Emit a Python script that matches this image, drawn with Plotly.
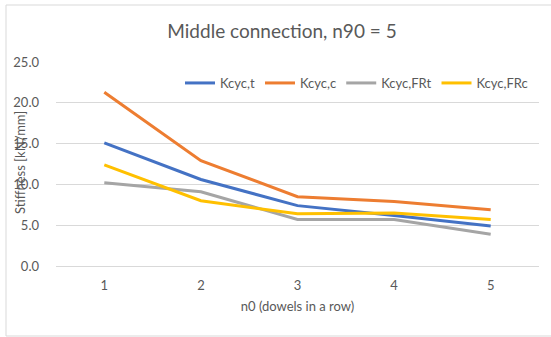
import plotly.graph_objects as go

# Number of dowels in a row (category axis)
n0 = ["1", "2", "3", "4", "5"]

# Cyclic stiffness values [kN/mm]
k_cyc_t = [15.1, 10.6, 7.4, 6.2, 4.9]
k_cyc_c = [21.3, 12.9, 8.5, 7.9, 6.9]
k_cyc_frt = [10.2, 9.1, 5.7, 5.7, 3.9]
k_cyc_frc = [12.4, 8.0, 6.4, 6.5, 5.7]

series = [
    ("Kcyc,t", k_cyc_t, "#4472C4"),
    ("Kcyc,c", k_cyc_c, "#ED7D31"),
    ("Kcyc,FRt", k_cyc_frt, "#A5A5A5"),
    ("Kcyc,FRc", k_cyc_frc, "#FFC000"),
]

FONT = "Lato"
TXT = "#595959"

fig = go.Figure()
for name, vals, color in series:
    fig.add_trace(go.Scatter(
        x=n0, y=vals, name=name, mode="lines",
        line=dict(color=color, width=3),
    ))

W, H = 551, 337
ml, mr, mt, mb = 56, 12, 62, 71
pw = W - ml - mr
ph = H - mt - mb

def px_x(p):
    return (p - ml) / pw

def px_y(p):
    return (H - mb - p) / ph

fig.update_layout(
    width=W, height=H,
    margin=dict(l=ml, r=mr, t=mt, b=mb, autoexpand=False),
    paper_bgcolor="white", plot_bgcolor="white",
    font=dict(family=FONT, color=TXT, size=12),
    title=dict(
        text="Middle connection, n90 = 5",
        font=dict(family=FONT, size=19, color=TXT),
        x=px_x(282), xref="paper", xanchor="center",
        y=1 - 31 / H, yref="container", yanchor="middle",
    ),
    legend=dict(
        orientation="h",
        x=px_x(180), xanchor="left",
        y=px_y(83), yanchor="middle",
        bgcolor="rgba(0,0,0,0)",
        font=dict(family=FONT, size=13, color=TXT),
        itemwidth=30,
    ),
    showlegend=True,
    xaxis=dict(
        type="category",
        range=[-0.5, 4.5],
        showgrid=False,
        showline=True, linecolor="#D9D9D9", linewidth=1,
        ticks="", tickfont=dict(family=FONT, size=13, color=TXT),
        ticklabelstandoff=7,
        title=dict(text="n0 (dowels in a row)",
                   font=dict(family=FONT, size=13, color=TXT), standoff=10),
        fixedrange=True,
    ),
    yaxis=dict(
        range=[0, 25], dtick=5, tickformat=".1f",
        showgrid=True, gridcolor="#D9D9D9", gridwidth=1,
        zeroline=False, showline=False,
        ticks="", tickfont=dict(family=FONT, size=13, color=TXT),
        ticklabelstandoff=16,
        fixedrange=True,
    ),
    annotations=[dict(
        text="Stiffness [kN/mm]", textangle=-90,
        xref="paper", yref="paper",
        x=px_x(20), y=px_y(163), xanchor="center", yanchor="middle",
        showarrow=False, font=dict(family=FONT, size=13, color=TXT),
    )],
    shapes=[dict(
        type="rect", xref="paper", yref="paper",
        x0=px_x(6), x1=px_x(556), y0=px_y(336), y1=px_y(5),
        line=dict(color="#D9D9D9", width=1), fillcolor="rgba(0,0,0,0)",
        layer="below",
    )],
)

fig.write_html("out.html")
